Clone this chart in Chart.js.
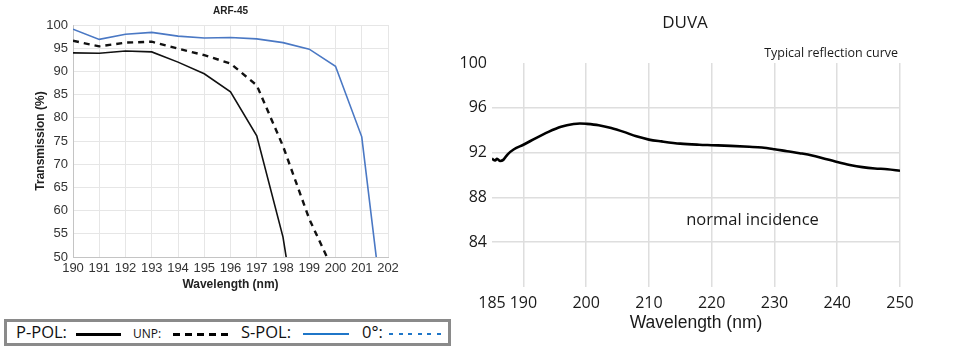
<!DOCTYPE html>
<html>
<head>
<meta charset="utf-8">
<script src="https://cdn.jsdelivr.net/npm/chart.js@4.4.1/dist/chart.umd.min.js"></script>
<style>
  html, body { margin: 0; padding: 0; background: #fff; }
  body { width: 953px; height: 353px; position: relative; overflow: hidden; }
  #arfChart { position: absolute; left: 0; top: 0; }
  #duvaChart { position: absolute; left: 430px; top: 0; }
  .legend-box {
    position: absolute; left: 4px; top: 319px; width: 441px; height: 21px;
    border: 3px solid #8a8a8a; background: #fff;
    font-family: "Open Sans", sans-serif; color: #111;
  }
  .legend-box span { position: absolute; white-space: nowrap; }
  .lg-text { top: -1px; font-size: 16.5px; line-height: 22px; }
  .lg-small { top: 1px; font-size: 12px; line-height: 22px; }
  .lg-line { top: 11px; height: 2.5px; }
</style>
</head>
<body>
<canvas id="arfChart" width="430" height="300"></canvas>
<canvas id="duvaChart" width="523" height="353"></canvas>

<div class="legend-box">
  <span class="lg-text" style="left:9px">P-POL:</span>
  <span class="lg-line" style="left:69px;width:45px;background:#000"></span>
  <span class="lg-small" style="left:126px">UNP:</span>
  <span class="lg-line" style="left:166px;width:56px;background:repeating-linear-gradient(to right,#000 0 7px,transparent 7px 12px)"></span>
  <span class="lg-text" style="left:234px">S-POL:</span>
  <span class="lg-line" style="left:296px;width:46px;height:2px;background:#1f76c8"></span>
  <span class="lg-text" style="left:355px">0°:</span>
  <span class="lg-line" style="left:382px;width:53px;height:2px;background:repeating-linear-gradient(to right,#1f76c8 0 4px,transparent 4px 9.5px)"></span>
</div>

<script>
// ARF-45 transmission data (%)
const arfTitle = 'ARF-45';
const arfWavelength = [190, 191, 192, 193, 194, 195, 196, 197, 198, 199, 200, 201, 202];
const pPol = [94.0, 93.9, 94.4, 94.2, 92.0, 89.5, 85.6, 76.1, 54.3, 18.6, null, null, null];
const unp  = [96.6, 95.4, 96.2, 96.4, 94.9, 93.5, 91.7, 87.0, 73.9, 58.2, 46.0, null, null];
const sPol = [99.1, 96.9, 98.0, 98.4, 97.6, 97.2, 97.3, 97.0, 96.2, 94.8, 91.1, 75.9, 29.0];

// DUVA reflection data (%)
const duvaTitle = 'DUVA';
const duvaSubtitle = 'Typical reflection curve';
const duvaNote = 'normal incidence';
const duvaWavelength = [185, 185.5, 185.8, 186.3, 186.8, 187.5, 188.5, 190, 192, 194, 196, 198, 199, 200,
  202, 204, 206, 208, 210, 212, 215, 218, 220, 223, 226, 228, 230, 232, 234, 236, 238, 240, 242, 244, 246, 248, 250];
const duvaReflect = [91.45, 91.3, 91.45, 91.25, 91.35, 91.85, 92.3, 92.7, 93.3, 93.85, 94.3, 94.55, 94.6, 94.57,
  94.45, 94.2, 93.85, 93.45, 93.16, 93.0, 92.8, 92.7, 92.66, 92.6, 92.52, 92.45, 92.3, 92.12, 91.95, 91.75, 91.45, 91.16, 90.9, 90.7, 90.58, 90.52, 90.38];
const duvaXTicks = [185, 190, 200, 210, 220, 230, 240, 250];

const toPoints = (xs, ys) => xs.map((x, i) => ({ x: x, y: ys[i] }));

// left chart
new Chart(document.getElementById('arfChart'), {
  type: 'line',
  data: {
    datasets: [
      { label: 'P-POL', data: toPoints(arfWavelength, pPol), borderColor: '#111', borderWidth: 1.6, pointRadius: 0, tension: 0 },
      { label: 'UNP', data: toPoints(arfWavelength, unp), borderColor: '#111', borderWidth: 2.4, borderDash: [6, 5], pointRadius: 0, tension: 0 },
      { label: 'S-POL', data: toPoints(arfWavelength, sPol), borderColor: '#4a78c4', borderWidth: 1.6, pointRadius: 0, tension: 0 }
    ]
  },
  options: {
    responsive: false,
    animation: false,
    layout: { padding: { left: 0, right: 42, top: 0, bottom: 0 } },
    plugins: {
      legend: { display: false },
      tooltip: { enabled: false },
      title: {
        display: true, text: arfTitle, fullSize: false, color: '#222',
        font: { family: 'Liberation Sans', size: 10, weight: 'bold' },
        padding: { top: 5, bottom: 8 }
      }
    },
    scales: {
      x: {
        type: 'linear', min: 190, max: 202,
        ticks: { stepSize: 1, color: '#333', padding: 4, maxRotation: 0, minRotation: 0, autoSkip: false,
          font: { family: 'Liberation Sans', size: 13 } },
        grid: { color: '#e6e6e6', drawTicks: false },
        border: { color: '#c4c4c4' },
        title: { display: true, text: 'Wavelength (nm)', color: '#222', font: { family: 'Liberation Sans', size: 12, weight: 'bold' }, padding: { top: 0, bottom: 8 } },
        afterFit: (s) => { s.height = 43; }
      },
      y: {
        min: 50, max: 100,
        ticks: { stepSize: 5, color: '#333', padding: 5, font: { family: 'Liberation Sans', size: 13 } },
        grid: { color: '#e6e6e6', drawTicks: false },
        border: { color: '#c4c4c4' },
        title: { display: true, text: 'Transmission (%)', color: '#222', font: { family: 'Liberation Sans', size: 12, weight: 'bold' }, padding: { top: 33, bottom: 0 } },
        afterFit: (s) => { s.width = 73; }
      }
    }
  }
});

// right chart text notes
const duvaText = {
  id: 'duvaText',
  afterDraw(chart) {
    const { ctx, scales } = chart;
    ctx.save();
    ctx.fillStyle = '#1a1a1a';
    ctx.textBaseline = 'middle';
    ctx.textAlign = 'center';
    ctx.font = '17px "Open Sans"';
    ctx.fillText(duvaTitle, 255, 23);
    ctx.textAlign = 'right';
    ctx.font = '12.5px "Open Sans"';
    ctx.fillText(duvaSubtitle, 468, 53);
    ctx.textAlign = 'center';
    ctx.font = '16.5px "Open Sans"';
    ctx.fillText(duvaNote, scales.x.getPixelForValue(226.5), scales.y.getPixelForValue(86));
    ctx.restore();
  }
};

new Chart(document.getElementById('duvaChart'), {
  type: 'line',
  data: {
    datasets: [{
      label: 'Reflection', data: toPoints(duvaWavelength, duvaReflect),
      borderColor: '#000', borderWidth: 2.6, pointRadius: 0, cubicInterpolationMode: 'monotone'
    }]
  },
  options: {
    responsive: false,
    animation: false,
    layout: { padding: { left: 0, right: 53, top: 63, bottom: 0 } },
    plugins: { legend: { display: false }, tooltip: { enabled: false } },
    scales: {
      x: {
        type: 'linear', min: 185, max: 250,
        afterBuildTicks: (s) => { s.ticks = duvaXTicks.map(v => ({ value: v })); },
        ticks: { color: '#1a1a1a', padding: 7, maxRotation: 0, autoSkip: false, font: { family: 'Open Sans', size: 16 } },
        grid: { color: (c) => c.tick && c.tick.value === 185 ? 'rgba(0,0,0,0)' : '#dedede', lineWidth: 1.5, drawTicks: false },
        border: { display: false },
        title: { display: true, text: 'Wavelength (nm)', color: '#1a1a1a', font: { family: 'Liberation Sans', size: 17.5 }, padding: { top: 0, bottom: 19 } },
        afterFit: (s) => { s.height = 66; }
      },
      y: {
        min: 80, max: 100,
        ticks: { stepSize: 4, color: '#1a1a1a', padding: 5, font: { family: 'Open Sans', size: 16 },
          callback: (v) => v === 80 ? '' : v },
        grid: { color: (c) => c.tick && (c.tick.value === 80 || c.tick.value === 100) ? 'rgba(0,0,0,0)' : '#dedede', lineWidth: 1.5, drawTicks: false },
        border: { display: false },
        afterFit: (s) => { s.width = 62; }
      }
    }
  },
  plugins: [duvaText]
});
</script>
</body>
</html>
